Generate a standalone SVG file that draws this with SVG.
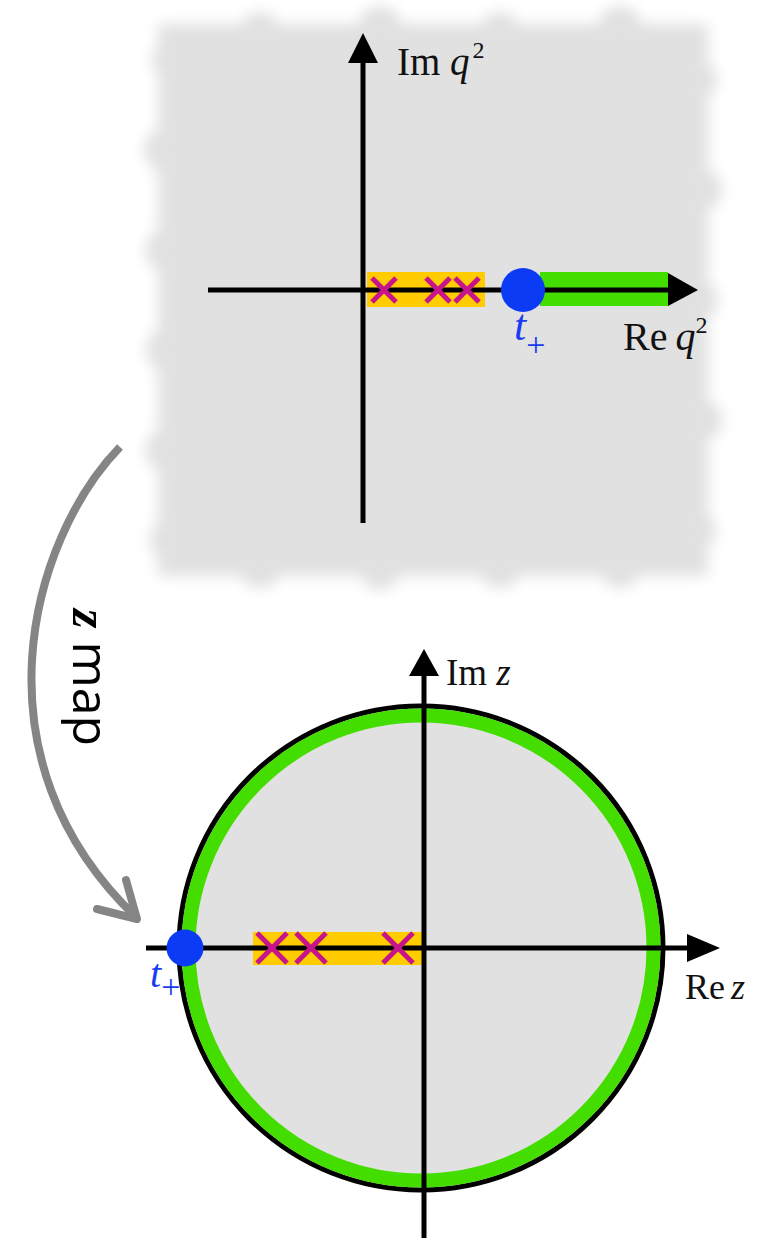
<svg xmlns="http://www.w3.org/2000/svg" width="761" height="1238" viewBox="0 0 761 1238">
<style>
.ax{stroke:#000;stroke-width:5;fill:none}
.head{fill:#000}
.cross{stroke:#c8148c;stroke-width:5;stroke-linecap:butt}
.lbl{font-family:"Liberation Serif",serif;fill:#111}
.tp{font-family:"Liberation Serif",serif;fill:#1a3cf0}
.it{font-style:italic}
</style>
<defs>
<filter id="blur" x="-10%" y="-10%" width="120%" height="120%">
<feGaussianBlur stdDeviation="7"/>
</filter>
</defs>
<rect width="761" height="1238" fill="#fff"/>
<g id="qplane">
<g id="blob" filter="url(#blur)" fill="#e1e1e1">
<rect x="158" y="24" width="550" height="552"/>
<circle cx="172" cy="60" r="20"/><circle cx="166" cy="150" r="22"/><circle cx="165" cy="250" r="20"/><circle cx="168" cy="350" r="22"/><circle cx="165" cy="450" r="20"/><circle cx="172" cy="540" r="22"/>
<circle cx="260" cy="32" r="20"/><circle cx="380" cy="28" r="22"/><circle cx="500" cy="32" r="20"/><circle cx="620" cy="28" r="22"/>
<circle cx="260" cy="566" r="22"/><circle cx="380" cy="570" r="20"/><circle cx="500" cy="566" r="22"/><circle cx="620" cy="568" r="20"/>
<circle cx="697" cy="80" r="20"/><circle cx="700" cy="190" r="22"/><circle cx="698" cy="300" r="20"/><circle cx="700" cy="420" r="22"/><circle cx="696" cy="530" r="20"/>
</g>
<rect id="cuts" x="367" y="272" width="118" height="35" fill="#ffcc00"/>
<rect id="cut" x="540" y="272" width="128" height="34" fill="#44dd00"/>
<line class="ax" x1="208" y1="290" x2="670" y2="290"/>
<polygon class="head" points="668,273 698,290 668,306"/>
<line class="ax" x1="363" y1="523" x2="363" y2="60"/>
<polygon class="head" points="348,63 363,33 378,63"/>
<g id="poles-q">
<path class="cross" d="M372,278 L396,302 M396,278 L372,302"/>
<path class="cross" d="M426,278 L450,302 M450,278 L426,302"/>
<path class="cross" d="M455,278 L479,302 M479,278 L455,302"/>
</g>
<circle id="tplus-q" cx="523" cy="290" r="22" fill="#0b3bf5"/>
<text class="tp" x="514" y="340" font-size="44"><tspan class="it">t</tspan><tspan font-size="34" dy="16">+</tspan></text>
<text class="lbl" x="623" y="350" font-size="40">Re<tspan class="it" dx="8">q</tspan><tspan font-size="24" dy="-17">2</tspan></text>
<text class="lbl" x="397" y="75" font-size="39">Im <tspan class="it">q</tspan><tspan font-size="24" dy="-17" dx="3">2</tspan></text>
</g>
<g id="connector">
<path d="M120,447 C30,540 -30,760 137,918" fill="none" stroke="#858585" stroke-width="8"/>
<path d="M97,909 L137,919 L126,880" fill="none" stroke="#858585" stroke-width="8" stroke-linecap="round" stroke-linejoin="round"/>
<text transform="translate(73,609) rotate(90)" font-size="50" fill="#000"><tspan font-family="Liberation Serif,serif" font-weight="bold" font-style="italic">z</tspan><tspan font-family="Open Sans,sans-serif"> map</tspan></text>
</g>
<g id="zplane">
<circle cx="421" cy="948" r="242" fill="#e1e1e1" stroke="#000" stroke-width="5"/>
<circle cx="421" cy="948" r="232.5" fill="none" stroke="#44dd00" stroke-width="14"/>
<rect x="253" y="932" width="169" height="33" fill="#ffcc00"/>
<line class="ax" x1="146" y1="948" x2="690" y2="948"/>
<polygon class="head" points="687,934 720,948 687,962"/>
<line class="ax" x1="424" y1="1238" x2="424" y2="672"/>
<polygon class="head" points="409,676 424,649 439,676"/>
<g id="poles-z">
<path class="cross" d="M257,933 L287,963 M287,933 L257,963"/>
<path class="cross" d="M296,933 L326,963 M326,933 L296,963"/>
<path class="cross" d="M383,933 L413,963 M413,933 L383,963"/>
</g>
<circle id="tplus-z" cx="185" cy="948" r="18.5" fill="#0b3bf5"/>
<text class="tp" x="150" y="987" font-size="40"><tspan class="it">t</tspan><tspan font-size="34" dy="11">+</tspan></text>
<text class="lbl" x="685" y="999" font-size="36">Re<tspan class="it" dx="6">z</tspan></text>
<text class="lbl" x="446" y="685" font-size="37">Im <tspan class="it">z</tspan></text>
</g>
</svg>
